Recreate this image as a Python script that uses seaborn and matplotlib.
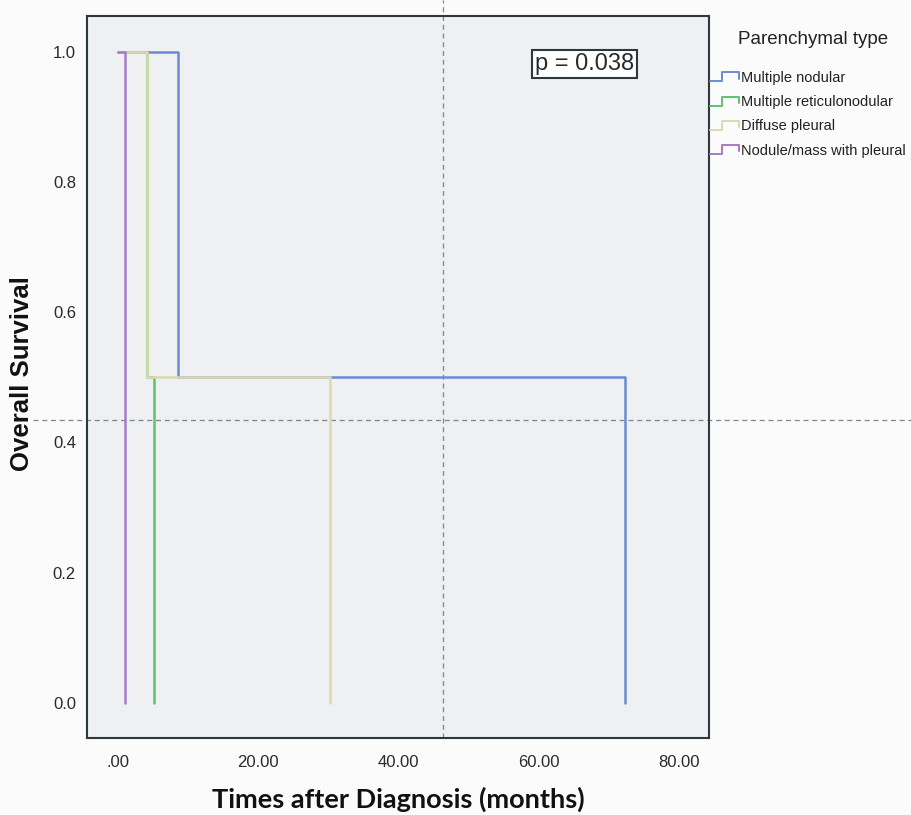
import pandas as pd
from matplotlib import pyplot as plt
from matplotlib.lines import Line2D
from matplotlib.legend_handler import HandlerBase
import seaborn as sns

# Kaplan-Meier step points (months, survival)
groups = ['Multiple nodular', 'Multiple reticulonodular', 'Diffuse pleural', 'Nodule/mass with pleural']
times = {
    'Multiple nodular': [0.0, 8.6, 72.3],
    'Multiple reticulonodular': [0.0, 4.1, 5.2],
    'Diffuse pleural': [0.0, 4.1, 30.2],
    'Nodule/mass with pleural': [0.0, 1.0],
}
survival = {
    'Multiple nodular': [1.0, 0.5, 0.0],
    'Multiple reticulonodular': [1.0, 0.5, 0.0],
    'Diffuse pleural': [1.0, 0.5, 0.0],
    'Nodule/mass with pleural': [1.0, 0.0],
}
colors = ['#6a8bd6', '#5cc46c', '#dcd9ae', '#a57bc6']
xticks = [0, 20, 40, 60, 80]
xticklabels = ['.00', '20.00', '40.00', '60.00', '80.00']
yticks = [0.0, 0.2, 0.4, 0.6, 0.8, 1.0]
p_text = 'p = 0.038'
ref_x = 46.4   # crosshair lines left in the original picture
ref_y = 0.435

rows = []
for g in groups:
    for t, s in zip(times[g], survival[g]):
        rows.append({'time': t, 'surv': s, 'group': g})
df = pd.DataFrame(rows)

sns.set_style('white')
plt.rcParams['font.family'] = ['Liberation Sans', 'DejaVu Sans']

dark = '#2c383d'
fig = plt.figure(figsize=(9.11, 8.15), dpi=100, facecolor='#fbfbfc')
ax = fig.add_axes([87/911, 1-738/815, 622/911, 722/815])
ax.set_facecolor('#eef0f1')

sns.lineplot(data=df, x='time', y='surv', hue='group', hue_order=groups,
             palette=colors, drawstyle='steps-post', linewidth=1.8,
             estimator=None, sort=False, legend=False, ax=ax)

ax.set_xlim(-4.4, 84.3)
ax.set_ylim(-0.054, 1.055)
ax.set_xticks(xticks)
ax.set_xticklabels(xticklabels)
ax.set_yticks(yticks)
ax.set_yticklabels([f'{v:.1f}' for v in yticks])
ax.tick_params(axis='x', direction='out', length=7.5, width=1.5, color=dark,
               pad=5, labelsize=12, labelcolor='#2a2a2a')
ax.tick_params(axis='y', direction='out', length=6, width=1.5, color=dark,
               pad=2, labelsize=12, labelcolor='#2a2a2a')
for sp in ax.spines.values():
    sp.set_visible(True)
    sp.set_color(dark)
    sp.set_linewidth(1.5)

ax.set_xlabel('Times after Diagnosis (months)', fontsize=19.5, fontweight='bold',
              family=['Lato', 'DejaVu Sans'], color='#111111')
ax.xaxis.set_label_coords(0.5, -0.067)
ax.set_ylabel('Overall Survival', fontsize=18.5, fontweight='bold', color='#111111')
ax.yaxis.set_label_coords(-0.086, 0.505)

# dashed crosshair
ax.axvline(ref_x, ymin=0, ymax=1.022, color='#7d8792', lw=0.9,
           ls=(0, (4, 3)), clip_on=False, zorder=1)
ax.axhline(ref_y, xmin=-0.087, xmax=1.33, color='#7d8792', lw=0.9,
           ls=(0, (4, 3)), clip_on=False, zorder=1)

ax.text(66.6, 0.981, p_text, ha='center', va='center', fontsize=17, color='#2a2a2a',
        bbox=dict(boxstyle='square,pad=0.12', fc='white', ec=dark, lw=1.5))


class StepHandler(HandlerBase):
    def create_artists(self, legend, orig_handle, xdescent, ydescent, width, height, fontsize, trans):
        x0, y0 = -xdescent, -ydescent
        xs = [x0, x0 + 0.4*width, x0 + 0.4*width, x0 + width, x0 + width]
        ys = [y0 + 0.1*height, y0 + 0.1*height, y0 + 0.9*height, y0 + 0.9*height, y0 + 0.35*height]
        ln = Line2D(xs, ys, color=orig_handle.get_color(), lw=1.4, transform=trans)
        return [ln]


handles = [Line2D([], [], color=c) for c in colors]
leg = fig.legend(handles, groups, handler_map={Line2D: StepHandler()},
                 loc='upper left', bbox_to_anchor=(710/911, 1-71/815),
                 frameon=False, fontsize=10.5, handlelength=2.0, handleheight=0.8,
                 handletextpad=0.1, labelspacing=0.7, borderpad=0, borderaxespad=0)
for t in leg.get_texts():
    t.set_color('#222222')
fig.text(738/911, 1-40/815, 'Parenchymal type', fontsize=13.5, color='#222222',
         ha='left', va='center')

plt.savefig('out.png', dpi=100, facecolor=fig.get_facecolor())
plt.close()
